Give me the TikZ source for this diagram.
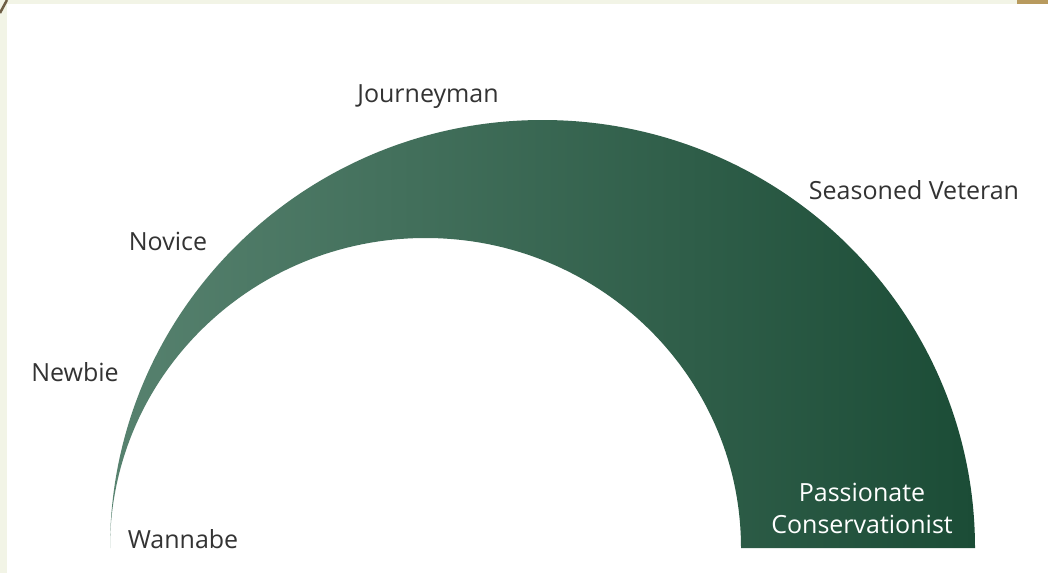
\documentclass[tikz,border=0pt]{standalone}
\usepackage{fontspec}
\setmainfont{Open Sans}
\begin{document}
\begin{tikzpicture}[x=1pt,y=-1pt,
  lbl/.style={font=\fontsize{25}{32}\selectfont, text=black!80, inner sep=0pt},
  wlbl/.style={font=\fontsize{25}{32}\selectfont, text=white, inner sep=0pt, align=center}]
\definecolor{cream}{HTML}{F2F4E6}
\definecolor{tan}{HTML}{B89A5E}
\definecolor{brownline}{HTML}{6E5E45}
\definecolor{gleft}{HTML}{57826F}
\definecolor{gright}{HTML}{1B4C36}
\useasboundingbox (0,0) rectangle (1048,573);
\fill[cream] (0,0) rectangle (1048,573);
\fill[white] (7,4) rectangle (1048,573);
\fill[tan] (1017,0) rectangle (1048,4);
\draw[brownline, line width=2.5pt] (0,13) -- (7,0);
% arc band
\shade[left color=gleft, right color=gright]
  (110,548) arc[start angle=180, end angle=360, x radius=432.5, y radius=428]
  -- (741,548) arc[start angle=0, end angle=-180, x radius=315.5, y radius=310]
  -- cycle;
\node[lbl] (journeyman) at (428,97) {Journeyman};
\node[lbl] (veteran) at (914,190) {Seasoned Veteran};
\node[lbl] (novice) at (168,241) {Novice};
\node[lbl] (newbie) at (75,372) {Newbie};
\node[lbl] (wannabe) at (183,539) {Wannabe};
\node[wlbl] (passionate) at (862,508) {Passionate\\Conservationist};
\end{tikzpicture}
\end{document}
